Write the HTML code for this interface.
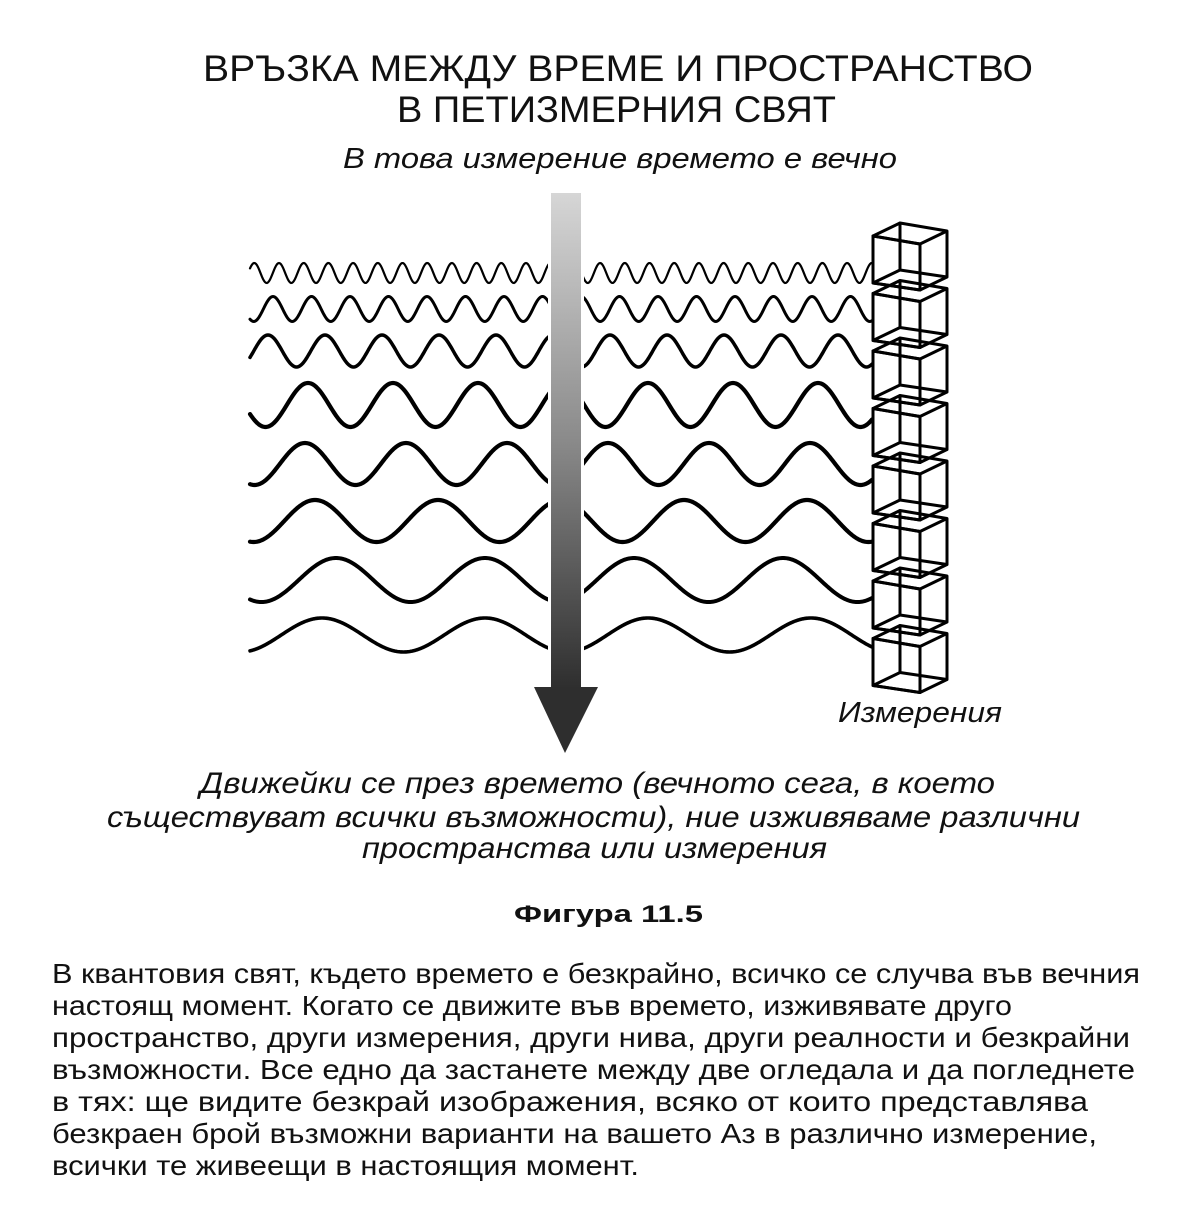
<!DOCTYPE html>
<html><head><meta charset="utf-8">
<style>
html,body{margin:0;padding:0;background:#fff;}
svg{display:block;}
text{font-family:"Liberation Sans","DejaVu Sans",sans-serif;fill:#111;}
.it{font-style:italic;}
</style></head>
<body>
<svg id="s" width="1200" height="1208" viewBox="0 0 1200 1208" xmlns="http://www.w3.org/2000/svg">
<defs>
<linearGradient id="g" x1="0" y1="0" x2="0" y2="1">
<stop offset="0" stop-color="#d6d6d6"/>
<stop offset="0.5" stop-color="#8a8a8a"/>
<stop offset="1" stop-color="#2e2e2e"/>
</linearGradient>
</defs>
<text x="203" y="81" font-size="37" textLength="830" lengthAdjust="spacingAndGlyphs">ВРЪЗКА МЕЖДУ ВРЕМЕ И ПРОСТРАНСТВО</text>
<text x="397" y="122" font-size="37" textLength="439" lengthAdjust="spacingAndGlyphs">В ПЕТИЗМЕРНИЯ СВЯТ</text>
<text class="it" x="343" y="168" font-size="29" textLength="554" lengthAdjust="spacingAndGlyphs">В това измерение времето е вечно</text>
<g id="waves" fill="none" stroke="#000" stroke-linecap="round"></g>
<rect x="548" y="180" width="36" height="500" fill="#fff"/>
<rect x="551" y="193" width="30" height="496" fill="url(#g)"/>
<polygon points="534,687 598,687 565,753" fill="#2e2e2e"/>
<g id="cubes" fill="none" stroke="#000" stroke-width="3" stroke-linejoin="round"></g>
<text class="it" x="838" y="722" font-size="29" textLength="164" lengthAdjust="spacingAndGlyphs">Измерения</text>
<text class="it" x="200" y="793" font-size="30" textLength="795" lengthAdjust="spacingAndGlyphs">Движейки се през времето (вечното сега, в което</text>
<text class="it" x="107" y="827" font-size="30" textLength="973" lengthAdjust="spacingAndGlyphs">съществуват всички възможности), ние изживяваме различни</text>
<text class="it" x="362" y="858" font-size="30" textLength="465" lengthAdjust="spacingAndGlyphs">пространства или измерения</text>
<text x="514" y="922" font-size="24" font-weight="bold" textLength="189" lengthAdjust="spacingAndGlyphs">Фигура 11.5</text>
<g font-size="28">
<text x="52" y="983" textLength="1088" lengthAdjust="spacingAndGlyphs">В квантовия свят, където времето е безкрайно, всичко се случва във вечния</text>
<text x="52" y="1015" textLength="960" lengthAdjust="spacingAndGlyphs">настоящ момент. Когато се движите във времето, изживявате друго</text>
<text x="52" y="1047" textLength="1078" lengthAdjust="spacingAndGlyphs">пространство, други измерения, други нива, други реалности и безкрайни</text>
<text x="52" y="1079" textLength="1083" lengthAdjust="spacingAndGlyphs">възможности. Все едно да застанете между две огледала и да погледнете</text>
<text x="52" y="1111" textLength="1036" lengthAdjust="spacingAndGlyphs">в тях: ще видите безкрай изображения, всяко от които представлява</text>
<text x="52" y="1143" textLength="1045" lengthAdjust="spacingAndGlyphs">безкраен брой възможни варианти на вашето Аз в различно измерение,</text>
<text x="52" y="1175" textLength="587" lengthAdjust="spacingAndGlyphs">всички те живеещи в настоящия момент.</text>
</g>
</svg>
<script>
(function(){
var ns="http://www.w3.org/2000/svg";
var W=[[273,10,24.7,279,2.2],[309,12.5,38.5,273,3],[351,16,57,268,3.5],[405,22,85,308,4.2],[464,21,101,305,4.2],[521,21,123,315,4.2],[580,22,149,336,4],[635,17,163,322,3.6]];
var wg=document.getElementById('waves');
W.forEach(function(w){
 var d="";
 for(var x=250;x<=872;x+=1){
  var y=w[0]-w[1]*Math.cos(2*Math.PI*(x-w[3])/w[2]);
  d+=(x==250?"M":"L")+x+","+y.toFixed(2);
 }
 var p=document.createElementNS(ns,"path");
 p.setAttribute("d",d);p.setAttribute("stroke-width",w[4]);
 wg.appendChild(p);
});
var cg=document.getElementById('cubes');
for(var i=0;i<8;i++){
 var o=i*57.5;
 function P(a){return a.map(function(q){return q[0]+","+(q[1]+o);}).join(" ");}
 var f=[[873,236],[920,244],[920,290],[873,283]];
 var b=[[900,223],[947,231],[947,277],[900,270]];
 var pf=document.createElementNS(ns,"polygon");pf.setAttribute("points",P(f));pf.setAttribute("fill","#fff");cg.appendChild(pf);
 var pb=document.createElementNS(ns,"polygon");pb.setAttribute("points",P(b));cg.appendChild(pb);
 var pf2=document.createElementNS(ns,"polygon");pf2.setAttribute("points",P(f));cg.appendChild(pf2);
 for(var k=0;k<4;k++){
  var l=document.createElementNS(ns,"line");
  l.setAttribute("x1",f[k][0]);l.setAttribute("y1",f[k][1]+o);
  l.setAttribute("x2",b[k][0]);l.setAttribute("y2",b[k][1]+o);
  cg.appendChild(l);
 }
}
})();
</script>
</body></html>
